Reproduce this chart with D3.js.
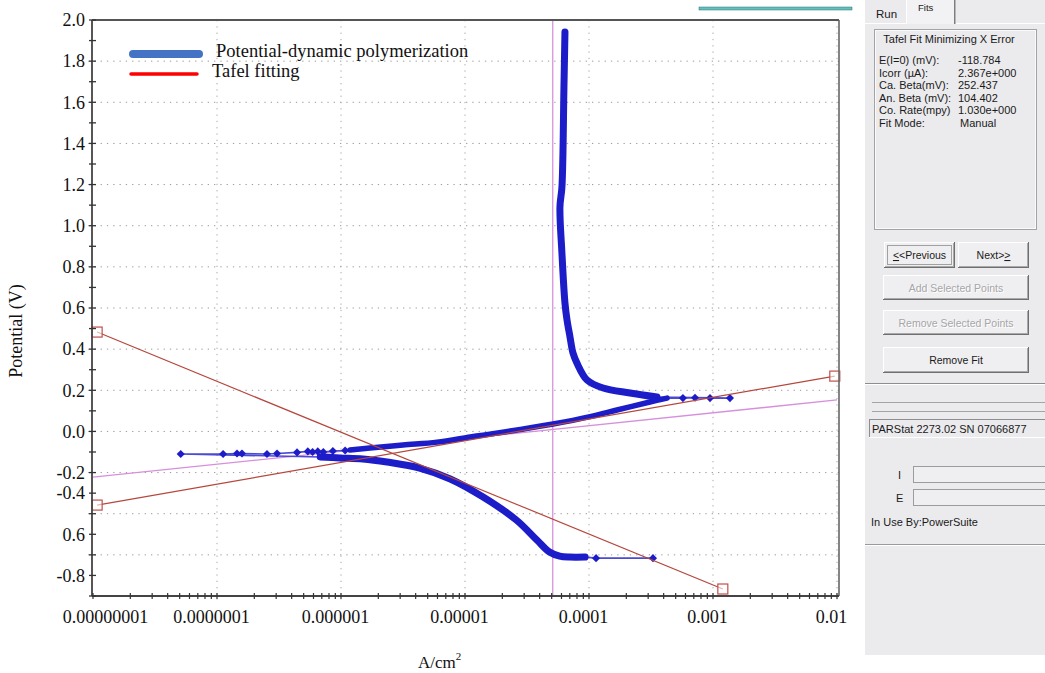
<!DOCTYPE html>
<html>
<head>
<meta charset="utf-8">
<script src="https://cdnjs.cloudflare.com/ajax/libs/d3/7.8.5/d3.min.js"></script>
<style>
body { margin: 0; background: #fff; }
#canvas text { font-family: 'Liberation Serif', 'Times New Roman', serif; fill: #111; }
#canvas .ui text { font-family: 'Liberation Sans', Arial, sans-serif; font-size: 10.5px; fill: #1a1a1a; }
</style>
</head>
<body>
<svg id="canvas" width="1045" height="673"></svg>
<script>
// axis ticks and labels
let currentTicks = [1e-8, 1e-7, 1e-6, 1e-5, 1e-4, 1e-3, 1e-2]
let currentTickLabels = ['0.00000001', '0.0000001', '0.000001', '0.00001', '0.0001', '0.001', '0.01']
let potentialLabelValues = [2.0, 1.8, 1.6, 1.4, 1.2, 1.0, 0.8, 0.6, 0.4, 0.2, 0.0, -0.2, -0.3, -0.5, -0.7]
let potentialLabelTexts = ['2.0', '1.8', '1.6', '1.4', '1.2', '1.0', '0.8', '0.6', '0.4', '0.2', '0.0', '-0.2', '-0.4', '0.6', '-0.8']

// polarization scan (A/cm2, V), in scan order
let cathodicTailI = [3.28e-4, 1.14e-4]
let cathodicTailV = [-0.616, -0.616]
let cathodicI = [9.3e-5, 7.0e-5, 5.8e-5, 4.8e-5, 3.8e-5, 2.6e-5, 1.4e-5, 7.6e-6, 4.3e-6, 2.35e-6, 1.5e-6, 9.8e-7, 6.8e-7]
let cathodicV = [-0.611, -0.611, -0.606, -0.586, -0.528, -0.431, -0.319, -0.231, -0.178, -0.149, -0.134, -0.129, -0.124]
let ecorrI = [5.1e-8, 1.12e-7, 1.45e-7, 1.59e-7, 2.53e-7, 3.05e-7, 4.42e-7, 5.4e-7, 5.9e-7, 6.5e-7, 7.2e-7, 8.6e-7, 1.08e-6]
let ecorrV = [-0.110, -0.110, -0.107, -0.107, -0.110, -0.107, -0.102, -0.097, -0.100, -0.097, -0.100, -0.095, -0.093]
let anodicI = [1.18e-6, 1.71e-6, 3.16e-6, 5.95e-6, 1.10e-5, 1.40e-5, 2.63e-5, 5.13e-5, 1.02e-4, 1.68e-4, 3.10e-4, 4.26e-4]
let anodicV = [-0.090, -0.081, -0.066, -0.052, -0.027, -0.018, 0.007, 0.036, 0.072, 0.104, 0.143, 0.162]
let anodicTailI = [5.72e-4, 7.16e-4, 9.46e-4, 1.37e-3]
let anodicTailV = [0.162, 0.164, 0.162, 0.162]
let passiveI = [3.53e-4, 2.14e-4, 1.30e-4, 9.64e-5, 8.0e-5, 7.43e-5, 7.03e-5, 6.65e-5, 6.4e-5, 6.05e-5, 5.83e-5, 6.05e-5, 6.28e-5, 6.4e-5]
let passiveV = [0.167, 0.187, 0.211, 0.250, 0.332, 0.381, 0.459, 0.542, 0.624, 0.867, 1.091, 1.188, 1.674, 1.942]

// Tafel fit lines
let cathodicFitI = [1.08e-8, 1.2e-3]
let cathodicFitV = [0.483, -0.766]
let anodicFitI = [1.08e-8, 9.6e-3]
let anodicFitV = [-0.358, 0.269]
let polarFitI = [1e-8, 1e-2]
let polarFitV = [-0.222, 0.153]
let icorrLine = 5.1e-5

// software panel text
let fitLabels = ['E(I=0) (mV):', 'Icorr (µA):', 'Ca. Beta(mV):', 'An. Beta (mV):', 'Co. Rate(mpy)', 'Fit Mode:']
let fitValues = ['-118.784', '2.367e+000', '252.437', '104.402', '1.030e+000', 'Manual']

let canvas = d3.select('#canvas')

let plotLeft = 92, plotRight = 839, plotTop = 20, plotBottom = 596

let xScale = d3.scaleLog().domain([1e-8, 1e-2]).range([93, 837])
let yScale = d3.scaleLinear().domain([-0.8, 2.0]).range([plotBottom, plotTop])

let pts = (xs, ys) => d3.zip(xs, ys)
let line = d3.line().x(d => xScale(d[0])).y(d => yScale(d[1]))

// grid
let grid = canvas.append('g')
grid.selectAll('.hgrid')
    .data(d3.range(-6, 19, 2).map(i => i / 10))
    .enter().append('line')
    .attr('x1', plotLeft - 4).attr('x2', plotRight)
    .attr('y1', d => yScale(d)).attr('y2', d => yScale(d))
    .attr('stroke', '#9a9a9a').attr('stroke-dasharray', '1.3,5')
grid.selectAll('.vgrid')
    .data(currentTicks.slice(1))
    .enter().append('line')
    .attr('x1', d => xScale(d)).attr('x2', d => xScale(d))
    .attr('y1', plotTop).attr('y2', plotBottom + 4)
    .attr('stroke', '#a8a8a8').attr('stroke-dasharray', '1.3,5')

// fit helpers behind data
canvas.append('line')
    .attr('x1', xScale(icorrLine)).attr('x2', xScale(icorrLine))
    .attr('y1', plotTop).attr('y2', plotBottom)
    .attr('stroke', '#d992dd').attr('stroke-width', 1.3)
canvas.append('path')
    .attr('d', line(pts(polarFitI, polarFitV)))
    .attr('fill', 'none').attr('stroke', '#d78fdc').attr('stroke-width', 1.3)

// measured curve
let blue = '#1c1cc9'
let scan = [].concat(
    pts(cathodicTailI, cathodicTailV), pts(cathodicI, cathodicV),
    pts(ecorrI, ecorrV), pts(anodicI, anodicV),
    pts(anodicTailI, anodicTailV), pts(passiveI, passiveV))
canvas.append('path')
    .attr('d', line(scan))
    .attr('fill', 'none').attr('stroke', '#4a4ad2').attr('stroke-width', 1.6)

let smooth = d3.line().x(d => xScale(d[0])).y(d => yScale(d[1])).curve(d3.curveCatmullRom)
let dense = [[cathodicI, cathodicV, 7], [anodicI, anodicV, 5.5], [passiveI, passiveV, 7]]
dense.forEach(seg => {
    canvas.append('path')
        .attr('d', smooth(pts(seg[0], seg[1])))
        .attr('fill', 'none').attr('stroke', blue)
        .attr('stroke-width', seg[2])
        .attr('stroke-linecap', 'round').attr('stroke-linejoin', 'round')
})

let sparse = [].concat(pts(cathodicTailI, cathodicTailV), pts(ecorrI, ecorrV), pts(anodicTailI, anodicTailV))
canvas.selectAll('.diamond')
    .data(sparse)
    .enter().append('path')
    .attr('d', d3.symbol(d3.symbolDiamond2).size(42))
    .attr('transform', d => 'translate(' + xScale(d[0]) + ',' + yScale(d[1]) + ')')
    .attr('fill', blue)

// Tafel fits
let fits = [[cathodicFitI, cathodicFitV], [anodicFitI, anodicFitV]]
fits.forEach(f => {
    canvas.append('path')
        .attr('d', line(pts(f[0], f[1])))
        .attr('fill', 'none').attr('stroke', '#b5473d').attr('stroke-width', 1.2)
    canvas.selectAll(null)
        .data(pts(f[0], f[1]))
        .enter().append('rect')
        .attr('x', d => xScale(d[0]) - 5).attr('y', d => yScale(d[1]) - 5)
        .attr('width', 10).attr('height', 10)
        .attr('fill', '#fff').attr('fill-opacity', 0.6)
        .attr('stroke', '#c0504d').attr('stroke-width', 1.2)
})

// frame
canvas.append('line').attr('x1', plotLeft).attr('x2', plotRight).attr('y1', plotTop).attr('y2', plotTop)
    .attr('stroke', '#555').attr('stroke-width', 1.8)
canvas.append('line').attr('x1', plotRight).attr('x2', plotRight).attr('y1', plotTop).attr('y2', plotBottom)
    .attr('stroke', '#666').attr('stroke-width', 1.6)
canvas.append('line').attr('x1', plotLeft).attr('x2', plotLeft).attr('y1', plotTop).attr('y2', plotBottom)
    .attr('stroke', '#444').attr('stroke-width', 1.8)
canvas.append('line').attr('x1', plotLeft).attr('x2', plotRight).attr('y1', plotBottom).attr('y2', plotBottom)
    .attr('stroke', '#444').attr('stroke-width', 1.8)

// tick marks crossing the axes
canvas.selectAll('.ytick')
    .data(d3.range(-8, 21).map(i => i / 10))
    .enter().append('line')
    .attr('x1', plotLeft - 3).attr('x2', plotLeft + 4)
    .attr('y1', d => yScale(d)).attr('y2', d => yScale(d))
    .attr('stroke', '#333').attr('stroke-width', 1.3)
let minorX = []
currentTicks.slice(0, -1).forEach(t => d3.range(1, 10).forEach(k => minorX.push(t * k)))
minorX.push(1e-2)
canvas.selectAll('.xtick')
    .data(minorX)
    .enter().append('line')
    .attr('x1', d => xScale(d)).attr('x2', d => xScale(d))
    .attr('y1', plotBottom - 3).attr('y2', plotBottom + 3)
    .attr('stroke', '#333').attr('stroke-width', 1.2)

// axis labels
let xAxis = d3.axisBottom(xScale)
    .tickValues(currentTicks)
    .tickFormat((d, i) => currentTickLabels[i])
    .tickSize(0).tickPadding(14)
let xAxisGroup = canvas.append('g').attr('transform', 'translate(0,' + plotBottom + ')').call(xAxis)
xAxisGroup.select('.domain').remove()
xAxisGroup.selectAll('text').attr('font-size', 18)
    .attr('dx', (d, i) => i === 0 ? 12 : -6)
xAxisGroup.attr('font-family', null).attr('font-size', null)

let yAxis = d3.axisLeft(yScale)
    .tickValues(potentialLabelValues)
    .tickFormat((d, i) => potentialLabelTexts[i])
    .tickSize(0).tickPadding(7)
let yAxisGroup = canvas.append('g').attr('transform', 'translate(' + plotLeft + ',0)').call(yAxis)
yAxisGroup.select('.domain').remove()
yAxisGroup.selectAll('text').attr('font-size', 18)
yAxisGroup.attr('font-family', null).attr('font-size', null)

canvas.append('text')
    .attr('transform', 'translate(22,331) rotate(-90)')
    .attr('text-anchor', 'middle').attr('font-size', 18)
    .text('Potential (V)')
let xTitle = canvas.append('text')
    .attr('x', 418).attr('y', 668).attr('font-size', 17)
xTitle.append('tspan').text('A/cm')
xTitle.append('tspan').attr('dy', -8).attr('font-size', 11).text('2')

// legend
canvas.append('line').attr('x1', 133).attr('x2', 199).attr('y1', 54).attr('y2', 54)
    .attr('stroke', '#4472c4').attr('stroke-width', 8).attr('stroke-linecap', 'round')
canvas.append('line').attr('x1', 131).attr('x2', 197).attr('y1', 74).attr('y2', 74)
    .attr('stroke', '#ff0000').attr('stroke-width', 3.5).attr('stroke-linecap', 'round')
canvas.append('text').attr('x', 216).attr('y', 57).attr('font-size', 18.5).text('Potential-dynamic polymerization')
canvas.append('text').attr('x', 212).attr('y', 77).attr('font-size', 18.5).text('Tafel fitting')

// strip at top from the software window
canvas.append('rect').attr('x', 699).attr('y', 7).attr('width', 153).attr('height', 3)
    .attr('fill', '#62c0bf').attr('stroke', '#2d6f6f').attr('stroke-width', 0.5)

// software side panel
let ui = canvas.append('g').attr('class', 'ui')
ui.append('rect').attr('x', 865).attr('y', 0).attr('width', 180).attr('height', 655).attr('fill', '#ebeaed')

let hline = (x1, x2, y, c) => ui.append('line').attr('x1', x1).attr('x2', x2).attr('y1', y).attr('y2', y).attr('stroke', c)
let vline = (x, y1, y2, c) => ui.append('line').attr('x1', x).attr('x2', x).attr('y1', y1).attr('y2', y2).attr('stroke', c)

// tabs
ui.append('rect').attr('x', 906).attr('y', -2).attr('width', 49).attr('height', 26).attr('fill', '#f2f1f3')
vline(906.5, 0, 24, '#fff')
vline(954.5, 0, 24, '#7d7d7d')
vline(955.5, 0, 24, '#b8b8b8')
hline(865, 906, 23.5, '#fff')
hline(956, 1045, 23.5, '#fff')
ui.append('text').attr('x', 876).attr('y', 18).style('font-size', '11.5px').text('Run')
ui.append('text').attr('x', 918).attr('y', 11).style('font-size', '9.5px').text('Fits')

// fit results box
ui.append('rect').attr('x', 874.5).attr('y', 29.5).attr('width', 162).attr('height', 200)
    .attr('fill', 'none').attr('stroke', '#a3a3a6')
ui.append('rect').attr('x', 875.5).attr('y', 30.5).attr('width', 160).attr('height', 198)
    .attr('fill', 'none').attr('stroke', '#fafafa')
ui.append('text').attr('x', 949).attr('y', 43).attr('text-anchor', 'middle').style('font-size', '11px')
    .text('Tafel Fit Minimizing X Error')
ui.selectAll('.fitlabel').data(fitLabels).enter().append('text')
    .attr('x', 879).attr('y', (d, i) => 64 + i * 12.6).style('font-size', '11px').text(d => d)
ui.selectAll('.fitvalue').data(fitValues).enter().append('text')
    .attr('x', (d, i) => i === 5 ? 960 : 958).attr('y', (d, i) => 64 + i * 12.6).style('font-size', '11px').text(d => d)

let button = (x, y, w, h, label, enabled, focus) => {
    ui.append('rect').attr('x', x).attr('y', y).attr('width', w).attr('height', h).attr('fill', '#efeef0')
    hline(x, x + w, y + 0.5, '#fff')
    vline(x + 0.5, y, y + h, '#fff')
    hline(x, x + w, y + h - 0.5, '#6f6f6f')
    vline(x + w - 0.5, y, y + h, '#6f6f6f')
    hline(x + 1, x + w - 1, y + h - 1.5, '#a9a9a9')
    vline(x + w - 1.5, y + 1, y + h - 1, '#a9a9a9')
    if (focus) {
        ui.append('rect').attr('x', x + 3.5).attr('y', y + 3.5).attr('width', w - 7).attr('height', h - 7)
            .attr('fill', 'none').attr('stroke', '#555').attr('stroke-dasharray', '1,1')
    }
    if (!enabled) {
        ui.append('text').attr('x', x + w / 2 + 1).attr('y', y + h / 2 + 5).attr('text-anchor', 'middle')
            .style('fill', '#fff').text(label)
    }
    let t = ui.append('text').attr('x', x + w / 2).attr('y', y + h / 2 + 4).attr('text-anchor', 'middle')
    if (!enabled) t.style('fill', '#a6a6a8')
    return t
}
let prev = button(884, 242, 71, 26, '', true, true)
prev.append('tspan').attr('text-decoration', 'underline').text('<')
prev.append('tspan').text('<Previous')
let next = button(958, 242, 71, 26, '', true, false)
next.append('tspan').text('Next>')
next.append('tspan').attr('text-decoration', 'underline').text('>')
button(883, 275, 146, 25, 'Add Selected Points', false, false).text('Add Selected Points')
button(883, 310, 146, 25, 'Remove Selected Points', false, false).text('Remove Selected Points')
button(883, 347, 146, 26, 'Remove Fit', true, false).text('Remove Fit')

// status area
hline(865, 1045, 383.5, '#8d8d90')
hline(865, 1045, 384.5, '#fff')
hline(872, 1045, 402.5, '#a4a4a6')
hline(872, 1045, 411.5, '#a4a4a6')
hline(869, 1045, 419.5, '#8d8d90')
vline(869.5, 419, 437, '#8d8d90')
hline(869, 1045, 437.5, '#fff')
ui.append('text').attr('x', 872).attr('y', 433).style('font-size', '11px').text('PARStat 2273.02 SN 07066877')

ui.append('text').attr('x', 898).attr('y', 479).style('font-size', '11px').text('I')
ui.append('rect').attr('x', 913.5).attr('y', 466.5).attr('width', 140).attr('height', 16)
    .attr('fill', '#efeef0').attr('stroke', '#9c9c9e')
ui.append('text').attr('x', 896).attr('y', 502).style('font-size', '11px').text('E')
ui.append('rect').attr('x', 913.5).attr('y', 489.5).attr('width', 140).attr('height', 16)
    .attr('fill', '#efeef0').attr('stroke', '#9c9c9e')
ui.append('text').attr('x', 871).attr('y', 526).style('font-size', '11px').text('In Use By:PowerSuite')
hline(865, 1045, 544.5, '#9a9a9c')
hline(865, 1045, 545.5, '#fff')
</script>
</body>
</html>
